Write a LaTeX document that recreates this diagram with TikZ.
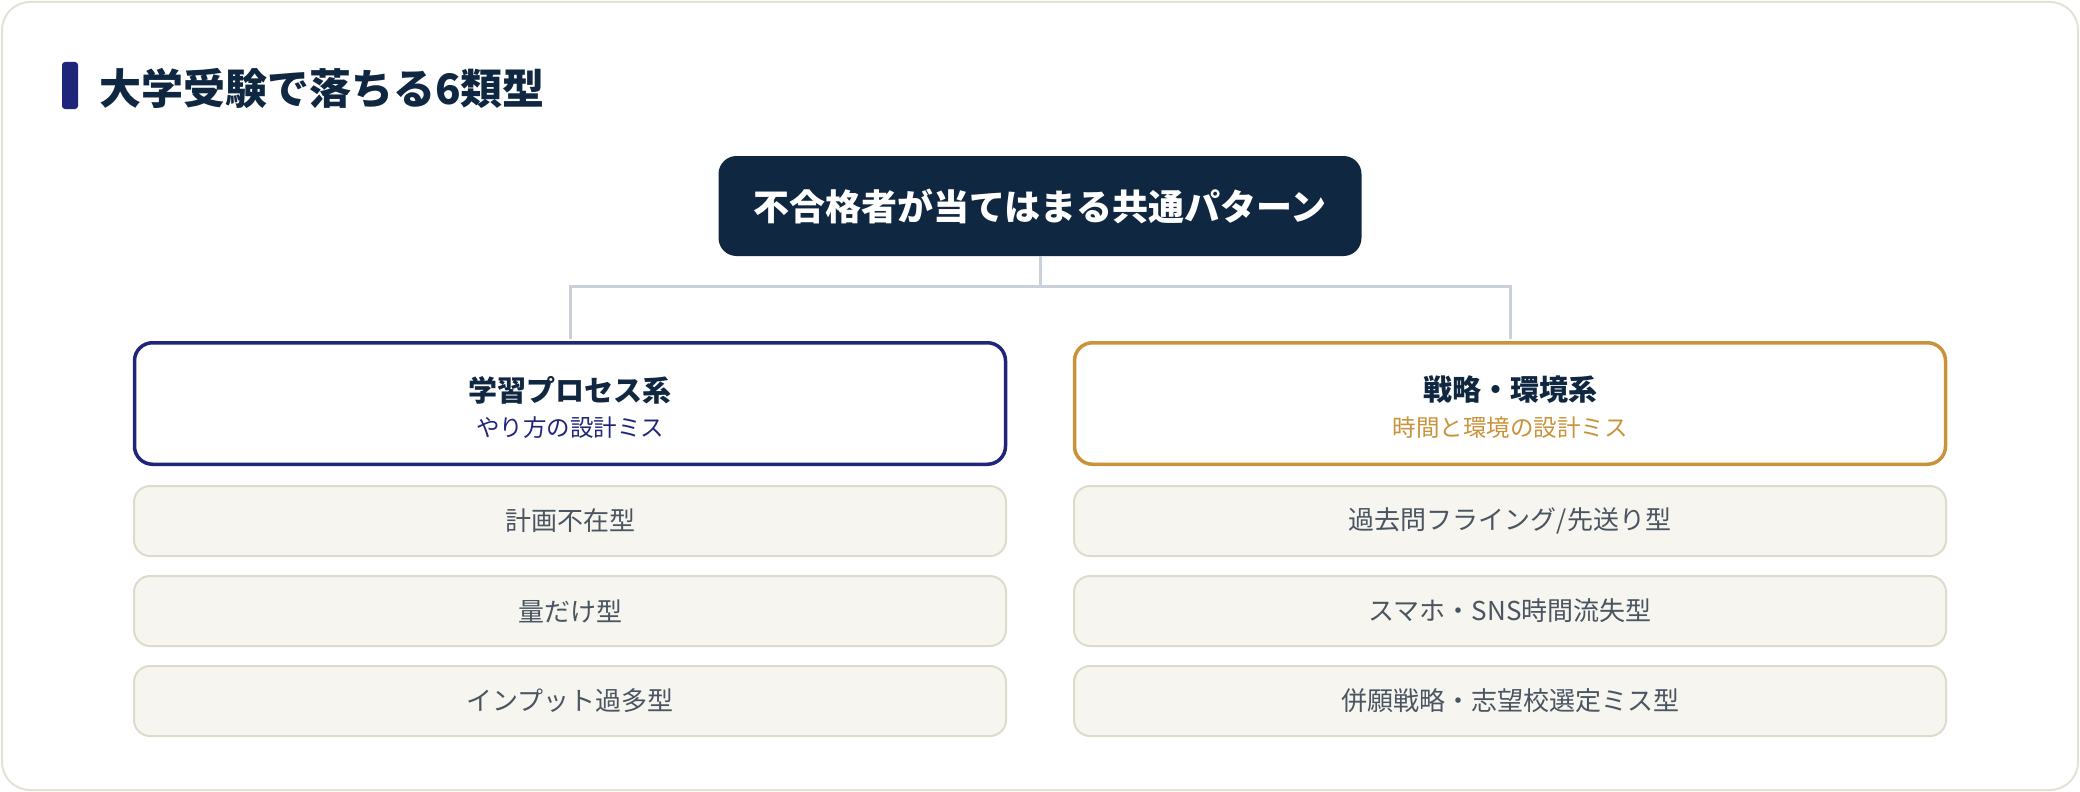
\documentclass[tikz,border=0pt]{standalone}
\usepackage{fontspec}
\setmainfont{Noto Sans CJK JP}
\definecolor{frameline}{HTML}{E4E2D6}
\definecolor{navy}{HTML}{0F2740}
\definecolor{indigo}{HTML}{1F2679}
\definecolor{gold}{HTML}{C8933A}
\definecolor{linkgray}{HTML}{C9D0DA}
\definecolor{itemfill}{HTML}{F6F5F0}
\definecolor{itemline}{HTML}{DEDBCB}
\definecolor{itemtext}{HTML}{4A5561}
\newcommand{\pxsize}[1]{\fontsize{#1}{#1}\selectfont}

\begin{document}
\begin{tikzpicture}[x=1pt, y=-1pt,
  catbox/.style={draw, line width=3.5pt, rounded corners=18pt, fill=white, minimum width=871pt, minimum height=121.5pt},
  itembox/.style={draw=itemline, line width=2pt, rounded corners=16pt, fill=itemfill, minimum width=872pt, minimum height=70pt, text=itemtext, font=\pxsize{26}},
  link/.style={draw=linkgray, line width=3pt, shorten >=1.75pt}]
\useasboundingbox (0,0) rectangle (2080,792);
\draw[frameline, line width=2pt, rounded corners=28pt] (2,2) rectangle (2078,790);
\fill[indigo, rounded corners=3pt] (62,62) rectangle (78,109);
\node (title) at (95.5,88)[anchor=west, text=navy, font=\bfseries\pxsize{42}]{大学受験で落ちる6類型};

\node (root) at (1040,206)[fill=navy, rounded corners=18pt, minimum width=643pt, minimum height=100pt, text=white, font=\bfseries\pxsize{36}]{不合格者が当てはまる共通パターン};

\node (proc) at (570,403.5)[catbox, draw=indigo]{};
\node (strat) at (1510,403.5)[catbox, draw=gold]{};
\coordinate (fork) at (1040,286);
\draw[link] (root) -- (fork) -| (proc);
\draw[link] (fork) -| (strat);

\node (proc-t) at (570,390)[text=navy, font=\bfseries\pxsize{29}]{学習プロセス系};
\node (proc-s) at (570,428)[text=indigo, font=\pxsize{23.5}]{やり方の設計ミス};
\node (strat-t) at (1510,390)[text=navy, font=\bfseries\pxsize{29}]{戦略・環境系};
\node (strat-s) at (1510,428)[text=gold, font=\pxsize{23.5}]{時間と環境の設計ミス};

\node (proc1) at (570,521)[itembox]{計画不在型};
\node (proc2) at (570,611)[itembox]{量だけ型};
\node (proc3) at (570,701)[itembox]{インプット過多型};
\node (strat1) at (1510,521)[itembox]{過去問フライング/先送り型};
\node (strat2) at (1510,611)[itembox]{スマホ・SNS時間流失型};
\node (strat3) at (1510,701)[itembox]{併願戦略・志望校選定ミス型};
\end{tikzpicture}
\end{document}
